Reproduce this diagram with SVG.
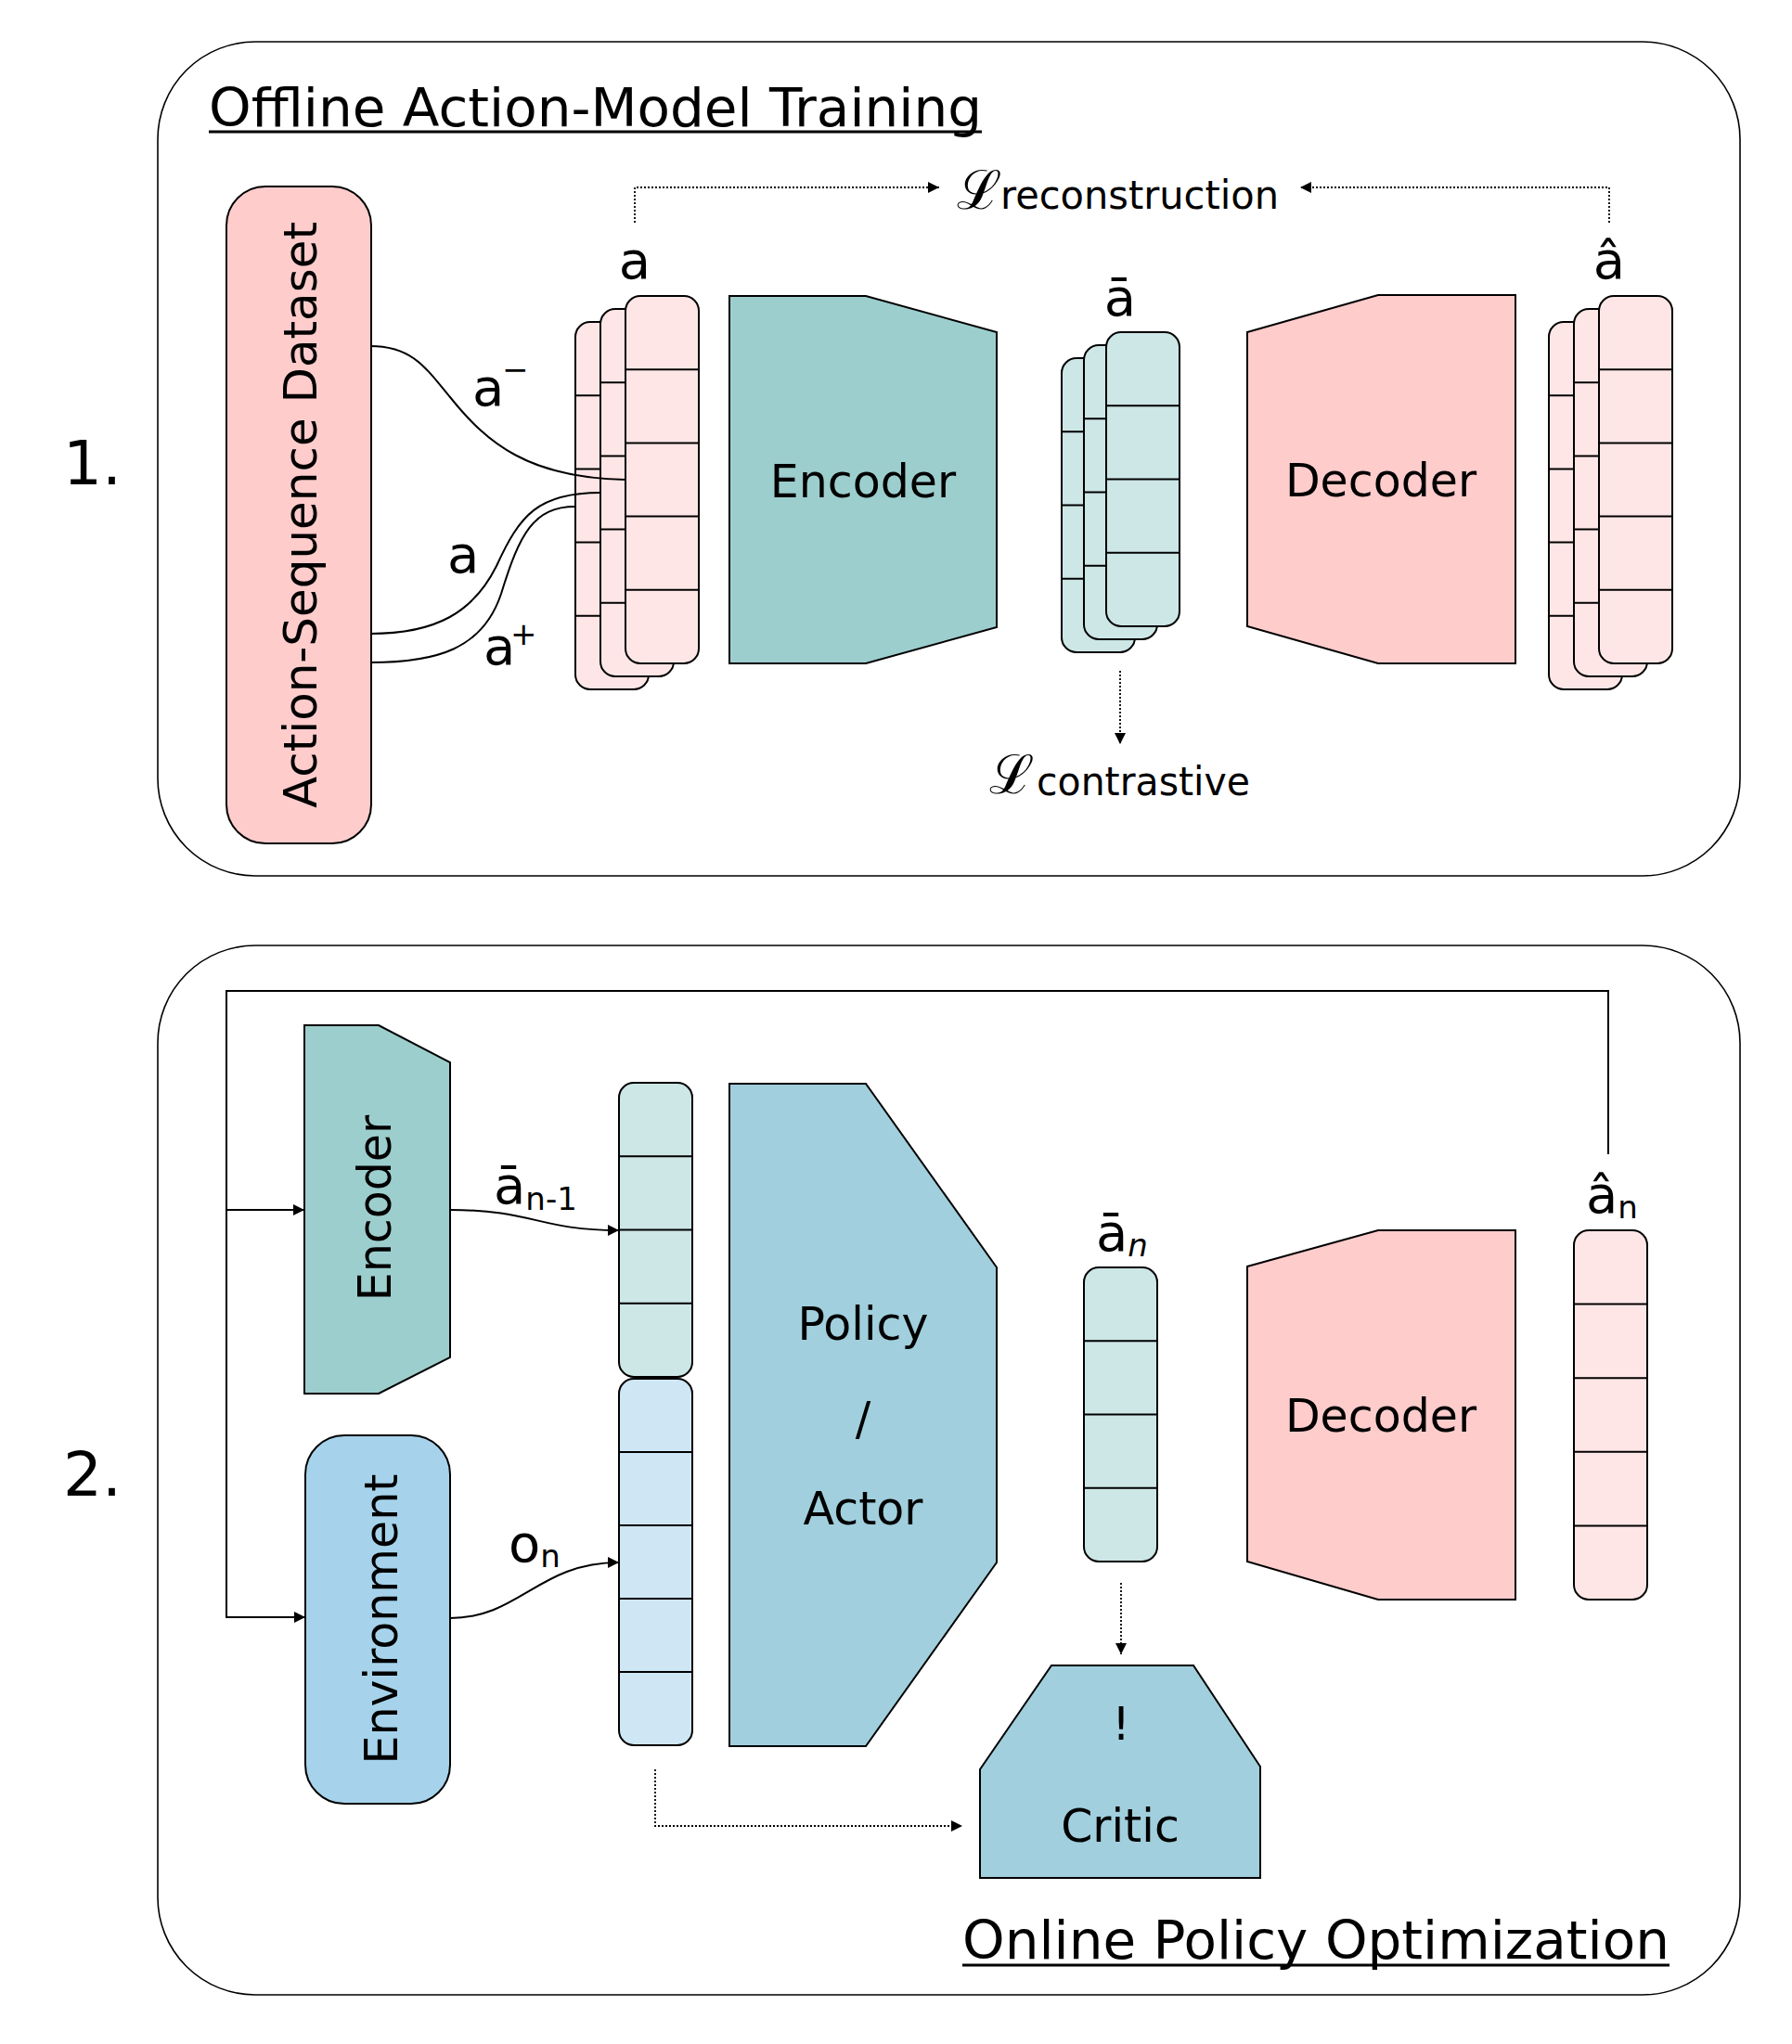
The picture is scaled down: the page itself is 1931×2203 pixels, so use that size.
<svg xmlns="http://www.w3.org/2000/svg" width="1931" height="2203" viewBox="0 0 1931 2203">
<defs>
<style>
text{font-family:"DejaVu Sans","Liberation Sans",sans-serif;fill:#000}
.num{font-size:66px}
.title{font-size:57px}
.lbl{font-size:49px;text-anchor:middle}
.var{font-size:56px}
.sub{font-size:34px}
.loss{font-size:42px}
.cal{font-family:"DejaVu Serif","Liberation Serif",serif;font-size:58px}
.frame{fill:none;stroke:#000;stroke-width:1.6}
.ul{stroke:#000;stroke-width:3}
.bx{stroke:#000;stroke-width:2}
.pink{fill:#ffcccc}
.teal{fill:#9dcece}
.blue{fill:#a6d3eb}
.pol{fill:#a1cfdd}
.vp{fill:#ffe6e6;stroke:#000;stroke-width:2}
.vt{fill:#cde6e6;stroke:#000;stroke-width:2}
.vb{fill:#cfe6f4;stroke:#000;stroke-width:2}
.cl{fill:none;stroke:#000;stroke-width:2}
.conn{fill:none;stroke:#000;stroke-width:2}
.dot{fill:none;stroke:#000;stroke-width:1.8;stroke-dasharray:2 2}
</style>
<marker id="ah" viewBox="0 0 10 10" refX="10" refY="5" markerWidth="14" markerHeight="12" markerUnits="userSpaceOnUse" orient="auto"><path d="M0,0 L10,5 L0,10 z" fill="#000"/></marker>
<marker id="ahd" viewBox="0 0 10 10" refX="10" refY="5" markerWidth="12" markerHeight="12" markerUnits="userSpaceOnUse" orient="auto"><path d="M0,0 L10,5 L0,10 z" fill="#000"/></marker>
</defs>

<!-- ===== Part 1 ===== -->
<g id="frame1">
<rect class="frame" x="170" y="45" width="1705" height="899" rx="105"/>
<text class="title" x="225" y="136" textLength="833" lengthAdjust="spacingAndGlyphs">Offline Action-Model Training</text>
<line class="ul" x1="225" y1="142" x2="1058" y2="142"/>
<text class="num" x="68" y="522">1.</text>
</g>

<g id="dataset">
<rect class="bx pink" x="244" y="201" width="156" height="708" rx="42"/>
<text class="lbl" transform="translate(341,555) rotate(-90)" font-size="50" textLength="632" lengthAdjust="spacingAndGlyphs">Action-Sequence Dataset</text>
</g>

<g id="input-stack">
<rect class="vp" x="620" y="347" width="79" height="396" rx="16"/>
<path class="cl" d="M620,426.2H699M620,505.4H699M620,584.6H699M620,663.8H699"/>
<rect class="vp" x="647" y="333" width="79" height="396" rx="16"/>
<path class="cl" d="M647,412.2H726M647,491.4H726M647,570.6H726M647,649.8H726"/>
<rect class="vp" x="674" y="319" width="79" height="396" rx="16"/>
<path class="cl" d="M674,398.2H753M674,477.4H753M674,556.6H753M674,635.8H753"/>
<text class="var" x="684" y="300" text-anchor="middle">a</text>
</g>

<g id="encoder1">
<polygon class="bx teal" points="786,319 933,319 1074,358 1074,676 933,715 786,715"/>
<text class="lbl" x="930" y="536">Encoder</text>
</g>

<g id="latent-stack">
<rect class="vt" x="1144" y="386" width="79" height="317" rx="16"/>
<path class="cl" d="M1144,465.25H1223M1144,544.5H1223M1144,623.75H1223"/>
<rect class="vt" x="1168" y="372" width="79" height="317" rx="16"/>
<path class="cl" d="M1168,451.25H1247M1168,530.5H1247M1168,609.75H1247"/>
<rect class="vt" x="1192" y="358" width="79" height="317" rx="16"/>
<path class="cl" d="M1192,437.25H1271M1192,516.5H1271M1192,595.75H1271"/>
<text class="var" x="1207" y="340" text-anchor="middle">ā</text>
</g>

<g id="decoder1">
<polygon class="bx pink" points="1344,358 1485,318 1633,318 1633,715 1485,715 1344,675"/>
<text class="lbl" x="1488" y="535">Decoder</text>
</g>

<g id="output-stack">
<rect class="vp" x="1669" y="347" width="79" height="396" rx="16"/>
<path class="cl" d="M1669,426.2H1748M1669,505.4H1748M1669,584.6H1748M1669,663.8H1748"/>
<rect class="vp" x="1696" y="333" width="79" height="396" rx="16"/>
<path class="cl" d="M1696,412.2H1775M1696,491.4H1775M1696,570.6H1775M1696,649.8H1775"/>
<rect class="vp" x="1723" y="319" width="79" height="396" rx="16"/>
<path class="cl" d="M1723,398.2H1802M1723,477.4H1802M1723,556.6H1802M1723,635.8H1802"/>
<text class="var" x="1734" y="300" text-anchor="middle">â</text>
</g>

<g id="loss-reconstruction">
<text class="cal" x="1031" y="225">ℒ</text>
<text class="loss" x="1078" y="225" textLength="300" lengthAdjust="spacingAndGlyphs">reconstruction</text>
</g>

<g id="loss-contrastive">
<text class="cal" x="1066" y="855">ℒ</text>
<text class="loss" x="1117" y="857" textLength="230" lengthAdjust="spacingAndGlyphs">contrastive</text>
</g>

<!-- ===== Part 2 ===== -->
<g id="frame2">
<rect class="frame" x="170" y="1019" width="1705" height="1131" rx="105"/>
<text class="title" x="1037" y="2111" textLength="762" lengthAdjust="spacingAndGlyphs">Online Policy Optimization</text>
<line class="ul" x1="1037" y1="2118" x2="1799" y2="2118"/>
<text class="num" x="68" y="1612">2.</text>
</g>

<g id="encoder2">
<polygon class="bx teal" points="328,1105 408,1105 485,1145 485,1463 408,1502 328,1502"/>
<text class="lbl" transform="translate(421,1302) rotate(-90)">Encoder</text>
</g>

<g id="environment">
<rect class="bx blue" x="329" y="1547" width="156" height="397" rx="42"/>
<text class="lbl" transform="translate(428,1745) rotate(-90)">Environment</text>
</g>

<g id="prev-latent">
<rect class="vt" x="667" y="1167" width="79" height="317" rx="16"/>
<path class="cl" d="M667,1246.25H746M667,1325.5H746M667,1404.75H746"/>
</g>

<g id="observation">
<rect class="vb" x="667" y="1486" width="79" height="395" rx="16"/>
<path class="cl" d="M667,1565H746M667,1644H746M667,1723H746M667,1802H746"/>
</g>

<g id="policy">
<polygon class="bx pol" points="786,1168 933,1168 1074,1366 1074,1684 933,1882 786,1882"/>
<text class="lbl" x="930" y="1444">Policy</text>
<text class="lbl" x="930" y="1546">/</text>
<text class="lbl" x="930" y="1643">Actor</text>
</g>

<g id="latent-n">
<rect class="vt" x="1168" y="1366" width="79" height="317" rx="16"/>
<path class="cl" d="M1168,1445.25H1247M1168,1524.5H1247M1168,1603.75H1247"/>
<text class="var" x="1181" y="1348">ā<tspan class="sub" font-style="italic" dy="6">n</tspan></text>
</g>

<g id="decoder2">
<polygon class="bx pink" points="1344,1365 1485,1326 1633,1326 1633,1724 1485,1724 1344,1683"/>
<text class="lbl" x="1488" y="1543">Decoder</text>
</g>

<g id="action-n">
<rect class="vp" x="1696" y="1326" width="79" height="398" rx="16"/>
<path class="cl" d="M1696,1405.6H1775M1696,1485.2H1775M1696,1564.8H1775M1696,1644.4H1775"/>
<text class="var" x="1709" y="1307">â<tspan class="sub" dy="6">n</tspan></text>
</g>

<g id="critic">
<polygon class="bx pol" points="1133,1795 1286,1795 1358,1904 1358,2024 1056,2024 1056,1907"/>
<text class="lbl" x="1208" y="1875">!</text>
<text class="lbl" x="1207" y="1985">Critic</text>
</g>

<!-- ===== Connectors ===== -->
<g id="connectors">
<path class="conn" d="M399,373 C445,373 460,398 485,428 C525,478 570,515 674,517"/>
<path class="conn" d="M399,683 C470,683 510,660 535,610 C560,555 580,531 647,531"/>
<path class="conn" d="M399,714 C470,714 520,700 540,640 C560,575 575,546 620,546"/>
<text class="var" x="509" y="437">a</text><text class="sub" x="541" y="410">−</text>
<text class="var" x="482" y="617">a</text>
<text class="var" x="521" y="716">a</text><text class="sub" x="550" y="695">+</text>

<path class="dot" d="M684,240 V202 H1012" marker-end="url(#ahd)"/>
<path class="dot" d="M1734,240 V202 H1401" marker-end="url(#ahd)"/>
<path class="dot" d="M1207,723 V802" marker-end="url(#ahd)"/>

<path class="conn" d="M1733,1244 V1068 H244 V1743 H329" marker-end="url(#ah)"/>
<path class="conn" d="M244,1304 H328" marker-end="url(#ah)"/>
<path class="conn" d="M485,1304 C575,1304 580,1326 667,1326" marker-end="url(#ah)"/>
<path class="conn" d="M485,1744 C560,1744 580,1684 667,1684" marker-end="url(#ah)"/>
<text class="var" x="532" y="1297">ā<tspan class="sub" dy="7">n-1</tspan></text>
<text class="var" x="548" y="1683">o<tspan class="sub" dy="6">n</tspan></text>

<path class="dot" d="M1208,1706 V1783" marker-end="url(#ahd)"/>
<path class="dot" d="M706,1907 V1968 H1037" marker-end="url(#ahd)"/>
</g>
</svg>
